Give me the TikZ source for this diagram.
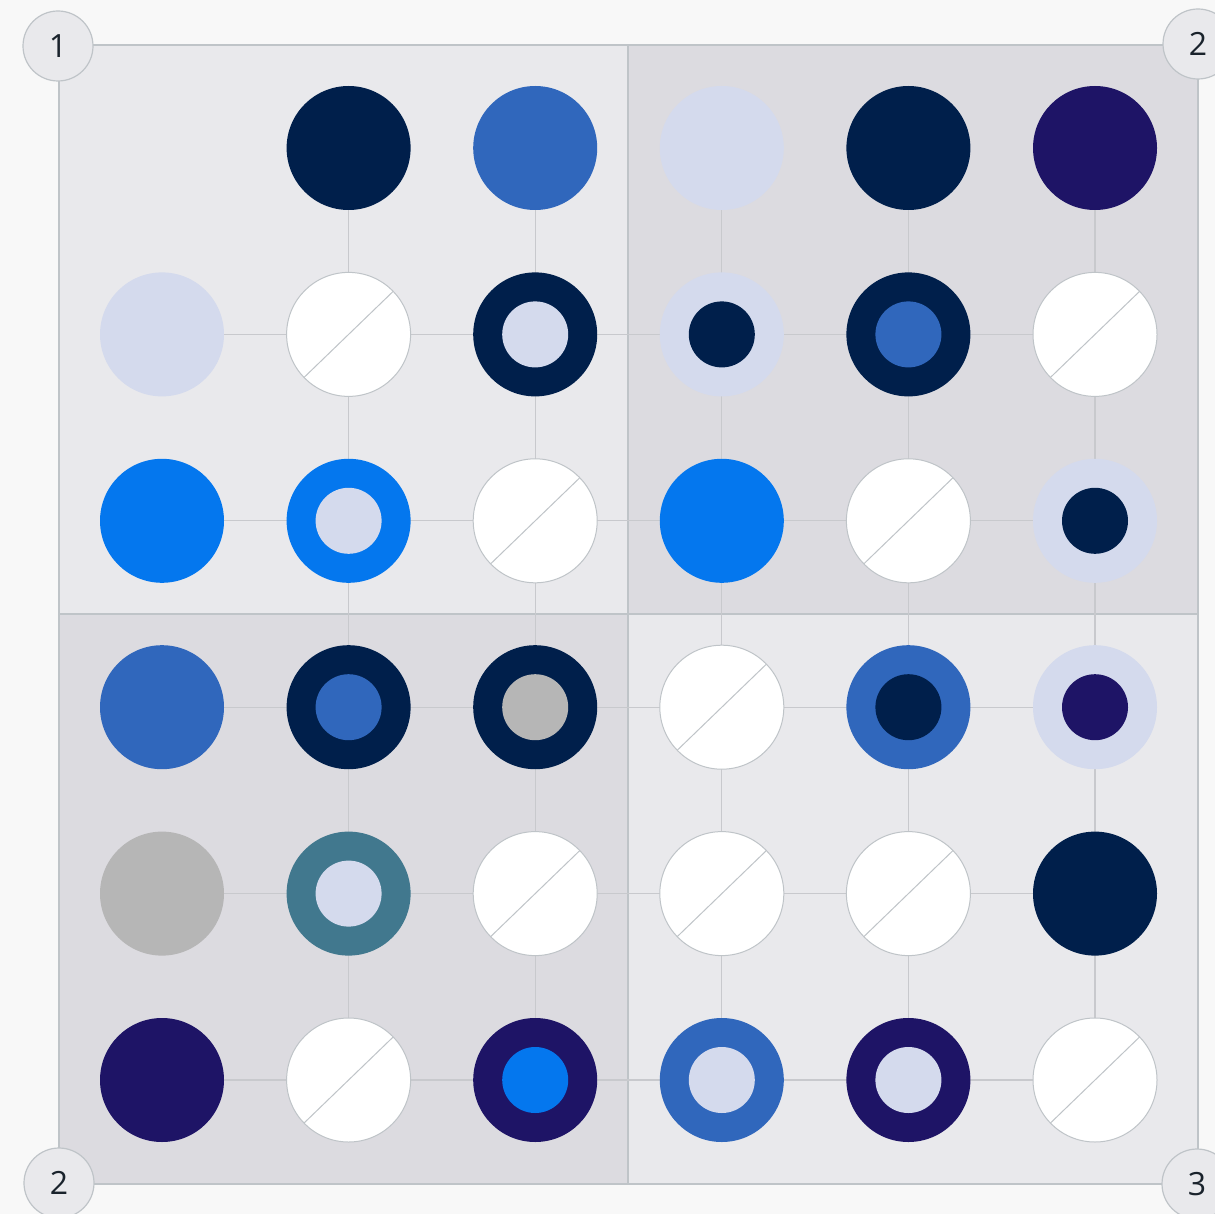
\documentclass[tikz,border=0pt]{standalone}
\usepackage{fontspec}
\setmainfont{Open Sans}

\definecolor{pagebg}{HTML}{F8F8F8}
\definecolor{quadlight}{HTML}{E9E9EC}
\definecolor{quaddark}{HTML}{DCDBE0}
\definecolor{rimgray}{HTML}{BFC4C8}
\definecolor{linegray}{HTML}{C8C9CD}
\definecolor{labeltext}{HTML}{1A232C}
\definecolor{navy}{HTML}{001F4B}
\definecolor{midblue}{HTML}{3067BC}
\definecolor{lavender}{HTML}{D4DAED}
\definecolor{indigo}{HTML}{1E1466}
\definecolor{bright}{HTML}{0477EE}
\definecolor{stone}{HTML}{B6B6B6}
\definecolor{teal}{HTML}{41788E}

\begin{document}
\begin{tikzpicture}[x=0.5pt,y=-0.5pt,
    dot/.style={circle,minimum size=62pt,inner sep=0pt,outer sep=0pt},
    core/.style={circle,minimum size=33pt,inner sep=0pt},
    blank/.style={dot,draw=rimgray,fill=white,line width=0.5pt},
    slash/.style={draw=rimgray,line width=0.5pt},
    gridline/.style={draw=linegray,line width=0.6pt},
    frame/.style={draw=rimgray,line width=1pt},
    corner/.style={circle,draw=rimgray,fill=quadlight,line width=0.6pt,minimum size=35pt,inner sep=0pt,
      text=labeltext,font=\fontsize{16}{16}\selectfont}]

  % page and quadrants
  \fill[pagebg] (0,0) rectangle (1215,1214);
  \useasboundingbox (0,0) rectangle (1215,1214);
  \fill[quadlight] (59,45) rectangle (628,614);
  \fill[quaddark] (628,45) rectangle (1198,614);
  \fill[quaddark] (59,614) rectangle (628,1184);
  \fill[quadlight] (628,614) rectangle (1198,1184);
  \draw[frame] (628,45) -- (628,1184);
  \draw[frame] (59,614) -- (1198,614);
  \draw[frame] (59,45) rectangle (1198,1184);

  % cell centres
  \foreach \r in {1,...,6}
    \foreach \c in {1,...,6}
      \coordinate (c-\r-\c) at ({162+(\c-1)*186.6},{148+(\r-1)*186.4});

  % grid lines
  \foreach \r in {2,...,6}
    \draw[gridline] (c-\r-1) -- (c-\r-6);
  \foreach \c in {2,...,6}
    \draw[gridline] (c-1-\c) -- (c-6-\c);

  % solid dots
  \foreach \r/\c/\col in {1/2/navy,1/3/midblue,1/4/lavender,1/5/navy,1/6/indigo,
      2/1/lavender,3/1/bright,3/4/bright,4/1/midblue,5/1/stone,5/6/navy,6/1/indigo}
    \node[dot,fill=\col] (n-\r-\c) at (c-\r-\c) {};

  % ringed dots
  \foreach \r/\c/\ro/\ri in {2/3/navy/lavender,2/4/lavender/navy,2/5/navy/midblue,
      3/2/bright/lavender,3/6/lavender/navy,
      4/2/navy/midblue,4/3/navy/stone,4/5/midblue/navy,4/6/lavender/indigo,
      5/2/teal/lavender,
      6/3/indigo/bright,6/4/midblue/lavender,6/5/indigo/lavender}
  {
    \node[dot,fill=\ro] (n-\r-\c) at (c-\r-\c) {};
    \node[core,fill=\ri] (k-\r-\c) at (n-\r-\c) {};
  }

  % empty dots
  \foreach \r/\c in {2/2,2/6,3/3,3/5,4/4,5/3,5/4,5/5,6/2,6/6}
  {
    \node[blank] (n-\r-\c) at (c-\r-\c) {};
    \draw[slash] (n-\r-\c.44) -- (n-\r-\c.224);
  }

  % corner labels
  \node[corner] (tl) at (58,46) {1};
  \node[corner] (tr) at (1198,44) {2};
  \node[corner] (bl) at (59,1183) {2};
  \node[corner] (br) at (1197,1184) {3};
\end{tikzpicture}
\end{document}
